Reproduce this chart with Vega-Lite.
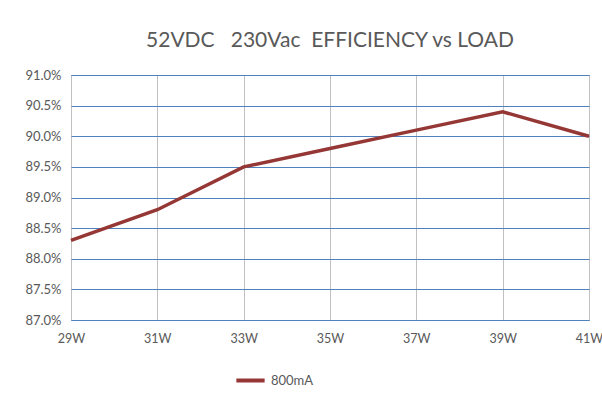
{
  "$schema": "https://vega.github.io/schema/vega-lite/v6.json",
  "width": 518,
  "height": 245,
  "autosize": "none",
  "padding": {"left": 71, "top": 75, "right": 13, "bottom": 83},
  "background": "white",
  "title": {
    "text": "52VDC\u00a0\u00a0 230Vac\u00a0 EFFICIENCY vs LOAD",
    "font": "Lato",
    "fontSize": 21,
    "fontWeight": "normal",
    "color": "#595959",
    "anchor": "middle",
    "offset": 18
  },
  "data": {
    "values": [
      {"load": 29, "eff": 0.883, "series": "800mA"},
      {"load": 31, "eff": 0.888, "series": "800mA"},
      {"load": 33, "eff": 0.895, "series": "800mA"},
      {"load": 35, "eff": 0.898, "series": "800mA"},
      {"load": 37, "eff": 0.901, "series": "800mA"},
      {"load": 39, "eff": 0.904, "series": "800mA"},
      {"load": 41, "eff": 0.900, "series": "800mA"}
    ]
  },
  "mark": {"type": "line", "strokeWidth": 3.5},
  "encoding": {
    "x": {
      "field": "load",
      "type": "quantitative",
      "scale": {"domain": [29, 41], "nice": false, "zero": false},
      "axis": {
        "title": null,
        "values": [29, 31, 33, 35, 37, 39, 41],
        "labelExpr": "datum.value + 'W'",
        "grid": true,
        "gridColor": "#c0c0c0",
        "gridWidth": 1,
        "domain": false,
        "ticks": false,
        "labelPadding": 12,
        "labelFont": "Lato",
        "labelFontSize": 12.5,
        "labelColor": "#595959",
        "labelFlush": false
      }
    },
    "y": {
      "field": "eff",
      "type": "quantitative",
      "scale": {"domain": [0.87, 0.91], "nice": false, "zero": false},
      "axis": {
        "title": null,
        "values": [0.87, 0.875, 0.88, 0.885, 0.89, 0.895, 0.9, 0.905, 0.91],
        "format": ".1%",
        "grid": true,
        "gridColor": "#4f81bd",
        "gridWidth": 1,
        "domain": false,
        "ticks": false,
        "labelPadding": 10,
        "labelFont": "Lato",
        "labelFontSize": 13,
        "labelColor": "#595959"
      }
    },
    "color": {
      "field": "series",
      "type": "nominal",
      "scale": {"range": ["#953735"]},
      "legend": {
        "title": null,
        "orient": "none",
        "legendX": 163,
        "legendY": 289,
        "direction": "horizontal",
        "symbolType": "stroke",
        "symbolSize": 800,
        "symbolStrokeWidth": 4,
        "labelFont": "Lato",
        "labelFontSize": 13,
        "labelColor": "#595959"
      }
    }
  },
  "config": {
    "view": {"stroke": "#4f81bd", "strokeWidth": 1}
  }
}
